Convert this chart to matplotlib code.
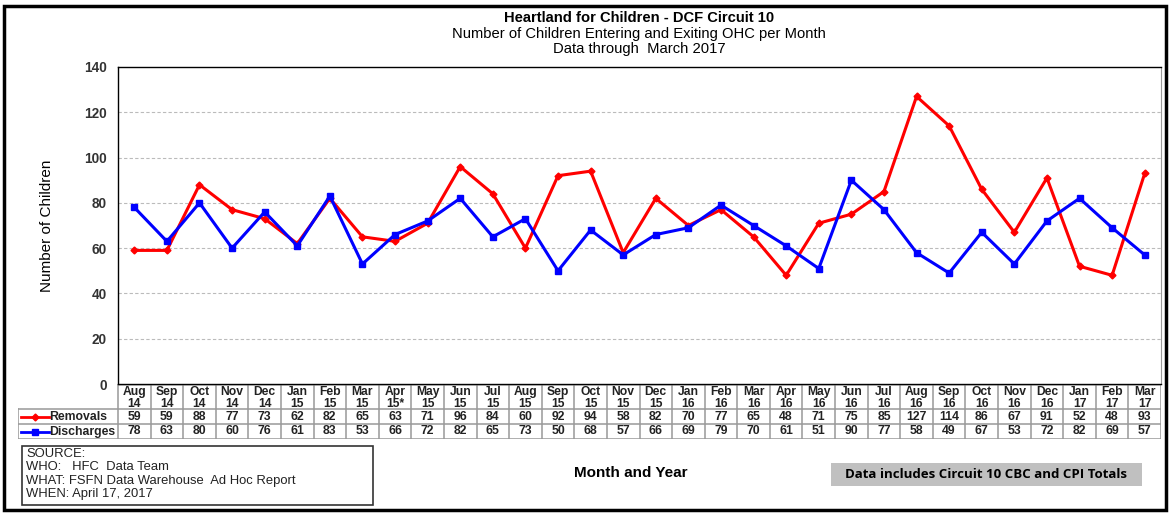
import matplotlib
matplotlib.use('Agg')
import matplotlib.pyplot as plt
from matplotlib.patches import Rectangle

months = ["Aug\n14", "Sep\n14", "Oct\n14", "Nov\n14", "Dec\n14", "Jan\n15", "Feb\n15", "Mar\n15",
          "Apr\n15*", "May\n15", "Jun\n15", "Jul\n15", "Aug\n15", "Sep\n15", "Oct\n15", "Nov\n15",
          "Dec\n15", "Jan\n16", "Feb\n16", "Mar\n16", "Apr\n16", "May\n16", "Jun\n16", "Jul\n16",
          "Aug\n16", "Sep\n16", "Oct\n16", "Nov\n16", "Dec\n16", "Jan\n17", "Feb\n17", "Mar\n17"]
removals = [59, 59, 88, 77, 73, 62, 82, 65, 63, 71, 96, 84, 60, 92, 94, 58,
            82, 70, 77, 65, 48, 71, 75, 85, 127, 114, 86, 67, 91, 52, 48, 93]
discharges = [78, 63, 80, 60, 76, 61, 83, 53, 66, 72, 82, 65, 73, 50, 68, 57,
              66, 69, 79, 70, 61, 51, 90, 77, 58, 49, 67, 53, 72, 82, 69, 57]
yticks = [0, 20, 40, 60, 80, 100, 120, 140]

W, H = 1173, 513
fig = plt.figure(figsize=(W / 100, H / 100), dpi=100)
plt.rcParams['font.family'] = ['Liberation Sans', 'DejaVu Sans']

def px(x0, y0, x1, y1):
    # pixel box (top-left origin) -> figure fraction rect
    return [x0 / W, 1 - y1 / H, (x1 - x0) / W, (y1 - y0) / H]

# outer frame
fig.patches.append(Rectangle((4 / W, 3 / H), 1162 / W, 504 / H, transform=fig.transFigure,
                             fill=False, edgecolor="black", linewidth=2.5))

# titles
fig.text(639 / W, 1 - 18 / H, "Heartland for Children - DCF Circuit 10", ha="center", va="center",
         fontsize=10.6, fontweight="bold")
fig.text(639 / W, 1 - 34 / H, "Number of Children Entering and Exiting OHC per Month", ha="center",
         va="center", fontsize=10.6)
fig.text(639 / W, 1 - 49.5 / H, "Data through  March 2017", ha="center", va="center", fontsize=10.6)

# main plot
ax = fig.add_axes(px(118, 67, 1161, 384))
n = len(months)
x = list(range(n))
ax.plot(x, removals, color="#FF0000", linewidth=2.2, marker="D", markersize=3.5, zorder=3)
ax.plot(x, discharges, color="#0000FF", linewidth=2.2, marker="s", markersize=5, zorder=3)
ax.set_xlim(-0.5, n - 0.5)
ax.set_ylim(0, 140)
ax.set_yticks(yticks)
ax.set_yticklabels([str(v) for v in yticks], fontsize=9.8, fontweight="bold", color="#333333")
ax.tick_params(axis="y", length=0, pad=8)
ax.set_xticks([])
for v in yticks[1:-1]:
    ax.axhline(v, color="#BBBBBB", linewidth=0.8, linestyle=(0, (3, 2)), zorder=1)
for side in ["top", "left", "bottom"]:
    ax.spines[side].set_color("black")
    ax.spines[side].set_linewidth(1.0)
ax.spines["right"].set_color("#999999")
ax.spines["right"].set_linewidth(0.8)
ax.set_ylabel("Number of Children", fontsize=11, labelpad=22)

# data table below the plot
colw = (1161 - 118) / n
legw = (118 - 18) / colw
tab = fig.add_axes(px(18, 384, 1161, 439))
tab.set_xlim(-0.5 - legw, n - 0.5)
tab.set_ylim(3, 0)
tab.axis("off")
# row boundaries: header, removals, discharges
r0, r1, r2, r3 = 0, 25 / 55 * 3, 40 / 55 * 3, 3
grey = "#999999"
for i in range(n + 1):
    tab.plot([i - 0.5, i - 0.5], [r0, r3], color=grey, linewidth=1.1)
tab.plot([-0.5 - legw, -0.5 - legw], [r1, r3], color=grey, linewidth=1.1)
tab.plot([-0.5, n - 0.5], [r0, r0], color="black", linewidth=1.0)
for r in [r1, r2, r3]:
    tab.plot([-0.5 - legw, n - 0.5], [r, r], color=grey, linewidth=1.1)
for i, m in enumerate(months):
    tab.text(i, (r0 + r1) / 2 + 0.08, m, ha="center", va="center", fontsize=8.7,
             fontweight="bold", linespacing=0.9, color="#222222")
    tab.text(i, (r1 + r2) / 2, str(removals[i]), ha="center", va="center", fontsize=8.8,
             fontweight="bold", color="#222222")
    tab.text(i, (r2 + r3) / 2, str(discharges[i]), ha="center", va="center", fontsize=8.8,
             fontweight="bold", color="#222222")
# legend keys in the table
lx0, lx1 = -0.5 - legw + 0.08, -0.5 - legw + 0.95
for (ry, col, mk, ms, lab) in [((r1 + r2) / 2, "#FF0000", "D", 3.5, "Removals"),
                               ((r2 + r3) / 2, "#0000FF", "s", 4.5, "Discharges")]:
    tab.plot([lx0, lx1], [ry, ry], color=col, linewidth=2)
    tab.plot([(lx0 + lx1) / 2], [ry], color=col, marker=mk, markersize=ms)
    tab.text(lx1 + 0.01, ry, lab, ha="left", va="center", fontsize=8.8, fontweight="bold",
             color="#222222")

# source box
fig.patches.append(Rectangle((22 / W, 1 - 505 / H), 351 / W, 59 / H, transform=fig.transFigure,
                             fill=False, edgecolor="#333333", linewidth=1.2))
src = ["SOURCE:", "WHO:   HFC  Data Team", "WHAT: FSFN Data Warehouse  Ad Hoc Report",
       "WHEN: April 17, 2017"]
for k, line in enumerate(src):
    fig.text(26 / W, 1 - (454 + k * 13.3) / H, line, ha="left", va="center", fontsize=9.4,
             color="#222222")

fig.text(631 / W, 1 - 473 / H, "Month and Year", ha="center", va="center", fontsize=11,
         fontweight="bold")

# note box
fig.patches.append(Rectangle((831 / W, 1 - 486 / H), 311 / W, 23 / H, transform=fig.transFigure,
                             facecolor="#C0C0C0", edgecolor="none"))
fig.text(986 / W, 1 - 475 / H, "Data includes Circuit 10 CBC and CPI Totals", ha="center",
         va="center", fontsize=9.5, fontweight="bold", family=["Open Sans", "DejaVu Sans"])

fig.savefig("out.png", dpi=100)
